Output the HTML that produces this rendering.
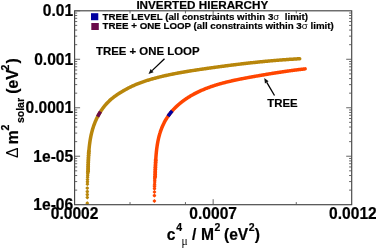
<!DOCTYPE html>
<html><head><meta charset="utf-8"><title>Inverted Hierarchy</title>
<style>html,body{margin:0;padding:0;background:#fff;overflow:hidden}body{width:376px;height:248px;position:relative;font-family:"Liberation Sans",sans-serif}</style></head>
<body>
<svg width="376" height="248" viewBox="0 0 376 248" style="position:absolute;left:0;top:0;will-change:transform">
<rect width="376" height="248" fill="#fff"/>
<path d="M88.06 171.24 L88.08 170.50 L88.09 169.76 L88.11 169.02 L88.13 168.28 L88.15 167.54 L88.16 166.80 L88.18 166.06 L88.20 165.31 L88.22 164.57 L88.24 163.83 L88.27 163.09 L88.29 162.35 L88.32 161.60 L88.34 160.86 L88.37 160.12 L88.40 159.38 L88.43 158.64 L88.46 157.89 L88.50 157.15 L88.54 156.41 L88.58 155.67 L88.62 154.93 L88.66 154.19 L88.71 153.45 L88.76 152.71 L88.81 151.97 L88.87 151.24 L88.93 150.50 L88.99 149.76 L89.05 149.03 L89.12 148.29 L89.20 147.56 L89.27 146.82 L89.35 146.09 L89.44 145.36 L89.52 144.62 L89.62 143.89 L89.71 143.17 L89.81 142.44 L89.92 141.71 L90.03 140.98 L90.14 140.26 L90.26 139.53 L90.39 138.81 L90.52 138.09 L90.65 137.37 L90.79 136.65 L90.94 135.93 L91.09 135.22 L91.25 134.50 L91.41 133.79 L91.58 133.08 L91.76 132.36 L91.94 131.66 L92.13 130.95 L92.32 130.24 L92.52 129.54 L92.73 128.84 L92.94 128.14 L93.17 127.44 L93.39 126.74 L93.63 126.05 L93.87 125.36 L94.12 124.67 L94.37 123.98 L94.64 123.30 L94.90 122.61 L95.18 121.94 L95.46 121.26 L95.75 120.59 L96.05 119.92 L96.35 119.25 L96.66 118.59 L96.98 117.93 L97.30 117.27 L97.64 116.62 L97.97 115.98 L98.32 115.33 L98.67 114.69 L99.03 114.06 L99.40 113.43 L99.77 112.80 L100.15 112.18 L100.54 111.56 L100.93 110.95 L101.34 110.34 L101.74 109.74 L102.16 109.14 L102.58 108.55 L103.01 107.97 L103.45 107.39 L103.90 106.81 L104.35 106.24 L104.81 105.68 L105.28 105.12 L105.75 104.57 L106.23 104.03 L106.72 103.49 L107.22 102.96 L107.72 102.43 L108.23 101.91 L108.75 101.40 L109.27 100.89 L109.81 100.40 L110.35 99.91 L110.89 99.42 L111.45 98.95 L112.01 98.48 L112.58 98.02 L113.16 97.56 L113.74 97.12 L114.33 96.67 L114.93 96.24 L115.53 95.81 L116.13 95.39 L116.74 94.97 L117.36 94.56 L117.97 94.15 L118.59 93.74 L119.22 93.34 L119.84 92.95 L120.47 92.55 L121.10 92.16 L121.74 91.78 L122.37 91.39 L123.01 91.01 L123.65 90.64 L124.30 90.27 L124.94 89.90 L125.59 89.54 L126.23 89.18 L126.89 88.83 L127.54 88.48 L128.19 88.14 L128.85 87.80 L129.51 87.47 L130.17 87.14 L130.83 86.82 L131.49 86.50 L132.16 86.19 L132.83 85.88 L133.49 85.58 L134.17 85.28 L134.84 84.99 L135.51 84.70 L136.19 84.42 L136.86 84.14 L137.54 83.87 L138.22 83.60 L138.90 83.33 L139.58 83.07 L140.27 82.81 L140.95 82.56 L141.64 82.31 L142.33 82.07 L143.02 81.82 L143.71 81.59 L144.40 81.35 L145.09 81.12 L145.78 80.89 L146.48 80.67 L147.18 80.45 L147.87 80.23 L148.57 80.02 L149.27 79.80 L149.97 79.59 L150.67 79.39 L151.37 79.18 L152.07 78.98 L152.78 78.78 L153.48 78.59 L154.19 78.40 L154.89 78.20 L155.60 78.01 L156.31 77.83 L157.01 77.64 L157.72 77.46 L158.43 77.28 L159.14 77.10 L159.85 76.92 L160.56 76.75 L161.27 76.58 L161.99 76.41 L162.70 76.24 L163.41 76.07 L164.13 75.90 L164.84 75.74 L165.56 75.58 L166.27 75.42 L166.99 75.26 L167.71 75.10 L168.42 74.95 L169.14 74.80 L169.86 74.64 L170.58 74.49 L171.30 74.35 L172.02 74.20 L172.74 74.05 L173.46 73.91 L174.18 73.77 L174.90 73.63 L175.62 73.49 L176.35 73.35 L177.07 73.21 L177.79 73.08 L178.51 72.94 L179.24 72.81 L179.96 72.68 L180.69 72.55 L181.41 72.42 L182.14 72.29 L182.86 72.16 L183.59 72.04 L184.31 71.91 L185.04 71.79 L185.77 71.67 L186.49 71.55 L187.22 71.43 L187.95 71.31 L188.67 71.19 L189.40 71.07 L190.13 70.95 L190.86 70.84 L191.59 70.72 L192.31 70.61 L193.04 70.49 L193.77 70.38 L194.50 70.27 L195.23 70.16 L195.96 70.05 L196.69 69.94 L197.42 69.83 L198.14 69.72 L198.87 69.61 L199.60 69.50 L200.33 69.39 L201.06 69.29 L201.79 69.18 L202.52 69.07 L203.25 68.97 L203.98 68.86 L204.71 68.76 L205.44 68.65 L206.17 68.55 L206.90 68.44 L207.63 68.34 L208.35 68.24 L209.08 68.13 L209.81 68.03 L210.54 67.93 L211.27 67.83 L212.00 67.72 L212.73 67.62 L213.46 67.52 L214.19 67.42 L214.92 67.32 L215.64 67.22 L216.37 67.12 L217.10 67.02 L217.83 66.92 L218.56 66.82 L219.29 66.72 L220.02 66.62 L220.75 66.53 L221.48 66.43 L222.20 66.33 L222.93 66.23 L223.66 66.14 L224.39 66.04 L225.12 65.95 L225.85 65.85 L226.58 65.76 L227.31 65.66 L228.03 65.57 L228.76 65.47 L229.49 65.38 L230.22 65.29 L230.95 65.19 L231.68 65.10 L232.41 65.01 L233.14 64.92 L233.86 64.83 L234.59 64.74 L235.32 64.65 L236.05 64.56 L236.78 64.47 L237.51 64.38 L238.24 64.29 L238.97 64.20 L239.70 64.12 L240.43 64.03 L241.15 63.94 L241.88 63.86 L242.61 63.77 L243.34 63.69 L244.07 63.60 L244.80 63.52 L245.53 63.43 L246.26 63.35 L246.99 63.27 L247.72 63.18 L248.45 63.10 L249.18 63.02 L249.91 62.94 L250.64 62.86 L251.37 62.78 L252.10 62.70 L252.83 62.62 L253.56 62.54 L254.29 62.46 L255.02 62.39 L255.75 62.31 L256.48 62.23 L257.21 62.16 L257.94 62.08 L258.67 62.01 L259.40 61.93 L260.13 61.86 L260.86 61.79 L261.59 61.71 L262.32 61.64 L263.05 61.57 L263.78 61.50 L264.51 61.43 L265.24 61.36 L265.97 61.29 L266.70 61.22 L267.44 61.15 L268.17 61.08 L268.90 61.02 L269.63 60.95 L270.36 60.88 L271.09 60.82 L271.83 60.75 L272.56 60.69 L273.29 60.62 L274.02 60.56 L274.75 60.50 L275.49 60.44 L276.22 60.37 L276.95 60.31 L277.68 60.25 L278.42 60.19 L279.15 60.13 L279.88 60.08 L280.61 60.02 L281.35 59.96 L282.08 59.90 L282.81 59.85 L283.55 59.79 L284.28 59.74 L285.01 59.68 L285.75 59.63 L286.48 59.58 L287.22 59.53 L287.95 59.47 L288.69 59.42 L289.42 59.37 L290.15 59.32 L290.89 59.28 L291.62 59.23 L292.36 59.18 L293.09 59.13 L293.83 59.09 L294.56 59.04 L295.30 59.00 L296.04 58.95 L296.77 58.91 L297.51 58.87 L298.24 58.82 L298.98 58.78 L299.72 58.74" fill="none" stroke="#b8860b" stroke-width="3.50" stroke-linecap="round" stroke-linejoin="round"/>
<path d="M86.01 171.24L86.87 170.05L88.06 169.19L89.25 170.05L90.11 171.24L89.25 172.43L88.06 173.29L86.87 172.43Z" fill="#b8860b"/>
<path d="M86.06 169.02L86.92 167.83L88.11 166.97L89.30 167.83L90.16 169.02L89.30 170.21L88.11 171.07L86.92 170.21Z" fill="#b8860b"/>
<path d="M86.11 166.80L86.98 165.61L88.16 164.75L89.35 165.61L90.21 166.80L89.35 167.99L88.16 168.85L86.98 167.99Z" fill="#b8860b"/>
<path d="M86.17 164.57L87.03 163.38L88.22 162.52L89.41 163.38L90.27 164.57L89.41 165.76L88.22 166.62L87.03 165.76Z" fill="#b8860b"/>
<path d="M86.24 162.35L87.10 161.16L88.29 160.30L89.48 161.16L90.34 162.35L89.48 163.53L88.29 164.40L87.10 163.53Z" fill="#b8860b"/>
<path d="M86.32 160.12L87.18 158.93L88.37 158.07L89.56 158.93L90.42 160.12L89.56 161.31L88.37 162.17L87.18 161.31Z" fill="#b8860b"/>
<path d="M86.41 157.89L87.28 156.71L88.46 155.84L89.65 156.71L90.51 157.89L89.65 159.08L88.46 159.94L87.28 159.08Z" fill="#b8860b"/>
<path d="M86.53 155.67L87.39 154.48L88.58 153.62L89.77 154.48L90.63 155.67L89.77 156.86L88.58 157.72L87.39 156.86Z" fill="#b8860b"/>
<path d="M86.66 153.45L87.52 152.26L88.71 151.40L89.90 152.26L90.76 153.45L89.90 154.64L88.71 155.50L87.52 154.64Z" fill="#b8860b"/>
<path d="M86.82 151.24L87.68 150.05L88.87 149.19L90.06 150.05L90.92 151.24L90.06 152.42L88.87 153.29L87.68 152.42Z" fill="#b8860b"/>
<path d="M85.40 203.20L86.20 202.10L87.30 201.30L88.40 202.10L89.20 203.20L88.40 204.30L87.30 205.10L86.20 204.30Z" fill="#b8860b"/>
<path d="M85.40 197.50L86.20 196.40L87.30 195.60L88.40 196.40L89.20 197.50L88.40 198.60L87.30 199.40L86.20 198.60Z" fill="#b8860b"/>
<path d="M85.40 194.70L86.20 193.60L87.30 192.80L88.40 193.60L89.20 194.70L88.40 195.80L87.30 196.60L86.20 195.80Z" fill="#b8860b"/>
<path d="M85.40 191.70L86.20 190.60L87.30 189.80L88.40 190.60L89.20 191.70L88.40 192.80L87.30 193.60L86.20 192.80Z" fill="#b8860b"/>
<path d="M85.40 188.10L86.20 187.00L87.30 186.20L88.40 187.00L89.20 188.10L88.40 189.20L87.30 190.00L86.20 189.20Z" fill="#b8860b"/>
<path d="M85.50 184.20L86.30 183.10L87.40 182.30L88.50 183.10L89.30 184.20L88.50 185.30L87.40 186.10L86.30 185.30Z" fill="#b8860b"/>
<path d="M85.55 181.80L86.35 180.70L87.45 179.90L88.55 180.70L89.35 181.80L88.55 182.90L87.45 183.70L86.35 182.90Z" fill="#b8860b"/>
<path d="M85.60 179.60L86.40 178.50L87.50 177.70L88.60 178.50L89.40 179.60L88.60 180.70L87.50 181.50L86.40 180.70Z" fill="#b8860b"/>
<path d="M85.70 177.20L86.50 176.10L87.60 175.30L88.70 176.10L89.50 177.20L88.70 178.30L87.60 179.10L86.50 178.30Z" fill="#b8860b"/>
<path d="M85.80 175.20L86.60 174.10L87.70 173.30L88.80 174.10L89.60 175.20L88.80 176.30L87.70 177.10L86.60 176.30Z" fill="#b8860b"/>
<path d="M85.90 173.40L86.70 172.30L87.80 171.50L88.90 172.30L89.70 173.40L88.90 174.50L87.80 175.30L86.70 174.50Z" fill="#b8860b"/>
<path d="M85.95 171.80L86.75 170.70L87.85 169.90L88.95 170.70L89.75 171.80L88.95 172.90L87.85 173.70L86.75 172.90Z" fill="#b8860b"/>
<path d="M155.11 176.59 L155.12 176.02 L155.14 175.45 L155.16 174.88 L155.17 174.31 L155.19 173.74 L155.21 173.17 L155.23 172.60 L155.24 172.02 L155.26 171.45 L155.28 170.88 L155.30 170.30 L155.32 169.73 L155.33 169.15 L155.35 168.57 L155.37 167.99 L155.39 167.42 L155.42 166.84 L155.44 166.26 L155.46 165.68 L155.48 165.10 L155.51 164.52 L155.53 163.94 L155.56 163.36 L155.59 162.78 L155.62 162.20 L155.65 161.62 L155.68 161.04 L155.71 160.46 L155.75 159.88 L155.78 159.30 L155.82 158.72 L155.86 158.14 L155.90 157.56 L155.94 156.98 L155.98 156.40 L156.02 155.82 L156.07 155.24 L156.12 154.66 L156.17 154.09 L156.22 153.51 L156.28 152.93 L156.33 152.35 L156.39 151.78 L156.45 151.20 L156.52 150.63 L156.58 150.05 L156.65 149.48 L156.72 148.90 L156.79 148.33 L156.87 147.76 L156.95 147.19 L157.03 146.62 L157.11 146.05 L157.20 145.48 L157.28 144.91 L157.38 144.35 L157.47 143.78 L157.57 143.22 L157.67 142.66 L157.77 142.09 L157.88 141.53 L157.99 140.97 L158.10 140.41 L158.22 139.86 L158.34 139.30 L158.46 138.75 L158.59 138.19 L158.72 137.64 L158.85 137.09 L158.99 136.54 L159.13 136.00 L159.28 135.45 L159.43 134.91 L159.58 134.36 L159.74 133.82 L159.90 133.28 L160.07 132.75 L160.23 132.21 L160.41 131.68 L160.59 131.14 L160.77 130.61 L160.95 130.09 L161.15 129.56 L161.34 129.04 L161.54 128.51 L161.74 127.99 L161.95 127.48 L162.17 126.96 L162.39 126.45 L162.61 125.93 L162.84 125.43 L163.07 124.92 L163.31 124.41 L163.55 123.91 L163.80 123.41 L164.05 122.91 L164.30 122.42 L164.56 121.93 L164.83 121.44 L165.10 120.95 L165.37 120.46 L165.65 119.98 L165.94 119.50 L166.22 119.03 L166.52 118.55 L166.82 118.08 L167.12 117.61 L167.42 117.15 L167.73 116.68 L168.05 116.22 L168.37 115.77 L168.69 115.31 L169.02 114.86 L169.36 114.41 L169.69 113.97 L170.04 113.53 L170.38 113.09 L170.73 112.65 L171.09 112.22 L171.45 111.79 L171.81 111.37 L172.18 110.94 L172.55 110.52 L172.92 110.11 L173.30 109.69 L173.68 109.28 L174.07 108.88 L174.46 108.47 L174.85 108.07 L175.25 107.68 L175.65 107.28 L176.06 106.89 L176.46 106.50 L176.87 106.12 L177.29 105.74 L177.70 105.36 L178.12 104.99 L178.55 104.61 L178.97 104.25 L179.40 103.88 L179.83 103.52 L180.26 103.16 L180.70 102.81 L181.14 102.45 L181.58 102.11 L182.02 101.76 L182.47 101.42 L182.92 101.08 L183.37 100.74 L183.82 100.41 L184.27 100.08 L184.73 99.76 L185.19 99.44 L185.65 99.12 L186.11 98.80 L186.58 98.49 L187.05 98.18 L187.52 97.87 L187.99 97.57 L188.46 97.27 L188.93 96.97 L189.41 96.67 L189.89 96.38 L190.37 96.09 L190.85 95.81 L191.34 95.52 L191.82 95.24 L192.31 94.97 L192.80 94.69 L193.29 94.42 L193.78 94.15 L194.28 93.89 L194.78 93.62 L195.27 93.36 L195.77 93.11 L196.27 92.85 L196.78 92.60 L197.28 92.35 L197.79 92.10 L198.30 91.86 L198.81 91.61 L199.32 91.38 L199.83 91.14 L200.34 90.90 L200.86 90.67 L201.37 90.44 L201.89 90.22 L202.41 89.99 L202.93 89.77 L203.45 89.55 L203.98 89.33 L204.50 89.12 L205.03 88.90 L205.55 88.69 L206.08 88.48 L206.61 88.28 L207.14 88.07 L207.67 87.87 L208.21 87.67 L208.74 87.48 L209.28 87.28 L209.81 87.09 L210.35 86.90 L210.89 86.71 L211.43 86.52 L211.97 86.34 L212.51 86.15 L213.05 85.97 L213.60 85.79 L214.14 85.62 L214.69 85.44 L215.23 85.27 L215.78 85.10 L216.33 84.93 L216.88 84.76 L217.43 84.59 L217.98 84.43 L218.53 84.26 L219.08 84.10 L219.63 83.94 L220.18 83.79 L220.74 83.63 L221.29 83.48 L221.85 83.32 L222.40 83.17 L222.96 83.02 L223.52 82.88 L224.08 82.73 L224.63 82.58 L225.19 82.44 L225.75 82.30 L226.31 82.16 L226.87 82.02 L227.43 81.88 L227.99 81.74 L228.56 81.61 L229.12 81.48 L229.68 81.34 L230.24 81.21 L230.80 81.08 L231.37 80.95 L231.93 80.82 L232.49 80.70 L233.06 80.57 L233.62 80.45 L234.19 80.33 L234.75 80.20 L235.32 80.08 L235.88 79.96 L236.45 79.84 L237.01 79.73 L237.58 79.61 L238.14 79.49 L238.71 79.38 L239.27 79.26 L239.84 79.15 L240.40 79.04 L240.97 78.93 L241.53 78.82 L242.10 78.71 L242.66 78.60 L243.23 78.49 L243.79 78.38 L244.36 78.27 L244.92 78.17 L245.49 78.06 L246.05 77.96 L246.61 77.85 L247.18 77.75 L247.74 77.65 L248.30 77.54 L248.86 77.44 L249.43 77.34 L249.99 77.24 L250.55 77.14 L251.11 77.04 L251.67 76.94 L252.23 76.84 L252.79 76.74 L253.35 76.64 L253.91 76.54 L254.47 76.44 L255.02 76.34 L255.58 76.25 L256.14 76.15 L256.69 76.05 L257.25 75.96 L257.80 75.86 L258.36 75.76 L258.91 75.67 L259.46 75.57 L260.02 75.47 L260.57 75.38 L261.12 75.28 L261.67 75.19 L262.22 75.09 L262.77 75.00 L263.32 74.91 L263.87 74.81 L264.42 74.72 L264.97 74.63 L265.52 74.53 L266.07 74.44 L266.62 74.35 L267.17 74.26 L267.72 74.16 L268.27 74.07 L268.82 73.98 L269.37 73.89 L269.91 73.80 L270.46 73.71 L271.01 73.62 L271.56 73.53 L272.11 73.44 L272.66 73.35 L273.20 73.27 L273.75 73.18 L274.30 73.09 L274.85 73.00 L275.40 72.92 L275.95 72.83 L276.50 72.74 L277.04 72.66 L277.59 72.57 L278.14 72.49 L278.69 72.40 L279.24 72.32 L279.79 72.23 L280.34 72.15 L280.90 72.06 L281.45 71.98 L282.00 71.90 L282.55 71.82 L283.10 71.73 L283.66 71.65 L284.21 71.57 L284.76 71.49 L285.32 71.41 L285.87 71.33 L286.43 71.25 L286.98 71.17 L287.54 71.09 L288.10 71.02 L288.65 70.94 L289.21 70.86 L289.77 70.78 L290.33 70.71 L290.89 70.63 L291.45 70.55 L292.01 70.48 L292.58 70.40 L293.14 70.33 L293.70 70.26 L294.27 70.18 L294.83 70.11 L295.40 70.04 L295.97 69.96 L296.53 69.89 L297.10 69.82 L297.67 69.75 L298.24 69.68 L298.82 69.61 L299.39 69.54 L299.96 69.47 L300.54 69.40 L301.11 69.34 L301.69 69.27 L302.27 69.20 L302.85 69.14 L303.43 69.07 L304.01 69.01 L304.59 68.94 L305.17 68.88" fill="none" stroke="#ff4500" stroke-width="3.50" stroke-linecap="round" stroke-linejoin="round"/>
<path d="M153.06 176.59L153.92 175.40L155.11 174.54L156.29 175.40L157.16 176.59L156.29 177.78L155.11 178.64L153.92 177.78Z" fill="#ff4500"/>
<path d="M153.12 174.31L153.99 173.12L155.17 172.26L156.36 173.12L157.22 174.31L156.36 175.50L155.17 176.36L153.99 175.50Z" fill="#ff4500"/>
<path d="M153.19 172.02L154.05 170.84L155.24 169.97L156.43 170.84L157.29 172.02L156.43 173.21L155.24 174.07L154.05 173.21Z" fill="#ff4500"/>
<path d="M153.27 169.73L154.13 168.54L155.32 167.68L156.50 168.54L157.37 169.73L156.50 170.91L155.32 171.78L154.13 170.91Z" fill="#ff4500"/>
<path d="M153.34 167.42L154.21 166.23L155.39 165.37L156.58 166.23L157.44 167.42L156.58 168.61L155.39 169.47L154.21 168.61Z" fill="#ff4500"/>
<path d="M153.43 165.10L154.30 163.91L155.48 163.05L156.67 163.91L157.53 165.10L156.67 166.29L155.48 167.15L154.30 166.29Z" fill="#ff4500"/>
<path d="M153.54 162.78L154.40 161.59L155.59 160.73L156.78 161.59L157.64 162.78L156.78 163.97L155.59 164.83L154.40 163.97Z" fill="#ff4500"/>
<path d="M153.66 160.46L154.52 159.27L155.71 158.41L156.90 159.27L157.76 160.46L156.90 161.65L155.71 162.51L154.52 161.65Z" fill="#ff4500"/>
<path d="M152.50 201.00L153.30 199.90L154.40 199.10L155.50 199.90L156.30 201.00L155.50 202.10L154.40 202.90L153.30 202.10Z" fill="#ff4500"/>
<path d="M152.50 195.70L153.30 194.60L154.40 193.80L155.50 194.60L156.30 195.70L155.50 196.80L154.40 197.60L153.30 196.80Z" fill="#ff4500"/>
<path d="M152.55 192.00L153.35 190.90L154.45 190.10L155.55 190.90L156.35 192.00L155.55 193.10L154.45 193.90L153.35 193.10Z" fill="#ff4500"/>
<path d="M152.60 188.70L153.40 187.60L154.50 186.80L155.60 187.60L156.40 188.70L155.60 189.80L154.50 190.60L153.40 189.80Z" fill="#ff4500"/>
<path d="M152.65 186.30L153.45 185.20L154.55 184.40L155.65 185.20L156.45 186.30L155.65 187.40L154.55 188.20L153.45 187.40Z" fill="#ff4500"/>
<path d="M152.70 184.20L153.50 183.10L154.60 182.30L155.70 183.10L156.50 184.20L155.70 185.30L154.60 186.10L153.50 185.30Z" fill="#ff4500"/>
<path d="M152.80 182.00L153.60 180.90L154.70 180.10L155.80 180.90L156.60 182.00L155.80 183.10L154.70 183.90L153.60 183.10Z" fill="#ff4500"/>
<path d="M152.85 180.20L153.65 179.10L154.75 178.30L155.85 179.10L156.65 180.20L155.85 181.30L154.75 182.10L153.65 181.30Z" fill="#ff4500"/>
<path d="M152.90 178.60L153.70 177.50L154.80 176.70L155.90 177.50L156.70 178.60L155.90 179.70L154.80 180.50L153.70 179.70Z" fill="#ff4500"/>
<path d="M153.00 177.20L153.80 176.10L154.90 175.30L156.00 176.10L156.80 177.20L156.00 178.30L154.90 179.10L153.80 178.30Z" fill="#ff4500"/>
<path d="M97.64 116.62 L97.97 115.98 L98.32 115.33 L98.67 114.69 L99.03 114.06 L99.40 113.43 L99.77 112.80 L100.15 112.18 L100.54 111.56" stroke="#6a0a4a" stroke-width="3.50" fill="none"/>
<path d="M168.05 116.22 L168.37 115.77 L168.69 115.31 L169.02 114.86 L169.36 114.41 L169.69 113.97 L170.04 113.53 L170.38 113.09 L170.73 112.65 L171.09 112.22 L171.45 111.79 L171.81 111.37 L172.18 110.94" stroke="#0000a0" stroke-width="3.50" fill="none"/>
<rect x="74.60" y="10.80" width="277.10" height="193.90" fill="none" stroke="#444" stroke-width="1.15"/>
<path d="M74.60 190.11h2.6M351.70 190.11h-2.6M74.60 181.57h2.6M351.70 181.57h-2.6M74.60 175.52h2.6M351.70 175.52h-2.6M74.60 170.82h2.6M351.70 170.82h-2.6M74.60 166.98h2.6M351.70 166.98h-2.6M74.60 163.73h2.6M351.70 163.73h-2.6M74.60 160.92h2.6M351.70 160.92h-2.6M74.60 158.44h2.6M351.70 158.44h-2.6M74.60 156.22h5.5M351.70 156.22h-5.5M74.60 141.63h2.6M351.70 141.63h-2.6M74.60 133.10h2.6M351.70 133.10h-2.6M74.60 127.04h2.6M351.70 127.04h-2.6M74.60 122.34h2.6M351.70 122.34h-2.6M74.60 118.50h2.6M351.70 118.50h-2.6M74.60 115.26h2.6M351.70 115.26h-2.6M74.60 112.45h2.6M351.70 112.45h-2.6M74.60 109.97h2.6M351.70 109.97h-2.6M74.60 107.75h5.5M351.70 107.75h-5.5M74.60 93.16h2.6M351.70 93.16h-2.6M74.60 84.62h2.6M351.70 84.62h-2.6M74.60 78.57h2.6M351.70 78.57h-2.6M74.60 73.87h2.6M351.70 73.87h-2.6M74.60 70.03h2.6M351.70 70.03h-2.6M74.60 66.78h2.6M351.70 66.78h-2.6M74.60 63.97h2.6M351.70 63.97h-2.6M74.60 61.49h2.6M351.70 61.49h-2.6M74.60 59.28h5.5M351.70 59.28h-5.5M74.60 44.68h2.6M351.70 44.68h-2.6M74.60 36.15h2.6M351.70 36.15h-2.6M74.60 30.09h2.6M351.70 30.09h-2.6M74.60 25.39h2.6M351.70 25.39h-2.6M74.60 21.55h2.6M351.70 21.55h-2.6M74.60 18.31h2.6M351.70 18.31h-2.6M74.60 15.50h2.6M351.70 15.50h-2.6M74.60 13.02h2.6M351.70 13.02h-2.6M74.60 10.80h5.5M130.02 204.70v-2.6M130.02 10.80v2.6M185.44 204.70v-2.6M185.44 10.80v2.6M296.28 204.70v-2.6M296.28 10.80v2.6M213.15 204.70v-5.5M213.15 10.80v5.5" stroke="#555" stroke-width="0.9" fill="none"/>
<rect x="91.0" y="13.2" width="7.3" height="7" fill="#0000a0"/>
<rect x="91.3" y="23.0" width="7.5" height="7" fill="#6a0a4a"/>
<path d="M164.50 58.70L152.10 70.63" stroke="#000" stroke-width="1.3" fill="none"/><path d="M148.50 74.10L150.65 69.12L153.56 72.15Z" fill="#111"/>
<path d="M274.50 95.50L266.78 82.31" stroke="#000" stroke-width="1.3" fill="none"/><path d="M264.25 78.00L268.59 81.25L264.96 83.38Z" fill="#111"/>
<text x="73.20" y="210.20" font-size="15.60" text-anchor="end" font-family="Liberation Sans, sans-serif" font-weight="bold" fill="#000" stroke="#000" stroke-width="0.2" stroke-linejoin="round" >1e-06</text>
<text x="73.20" y="161.72" font-size="15.60" text-anchor="end" font-family="Liberation Sans, sans-serif" font-weight="bold" fill="#000" stroke="#000" stroke-width="0.2" stroke-linejoin="round" >1e-05</text>
<text x="73.20" y="113.25" font-size="15.60" text-anchor="end" font-family="Liberation Sans, sans-serif" font-weight="bold" fill="#000" stroke="#000" stroke-width="0.2" stroke-linejoin="round" >0.0001</text>
<text x="73.20" y="64.78" font-size="15.60" text-anchor="end" font-family="Liberation Sans, sans-serif" font-weight="bold" fill="#000" stroke="#000" stroke-width="0.2" stroke-linejoin="round" >0.001</text>
<text x="73.20" y="16.30" font-size="15.60" text-anchor="end" font-family="Liberation Sans, sans-serif" font-weight="bold" fill="#000" stroke="#000" stroke-width="0.2" stroke-linejoin="round" >0.01</text>
<text x="74.60" y="219.30" font-size="15.60" text-anchor="middle" font-family="Liberation Sans, sans-serif" font-weight="bold" fill="#000" stroke="#000" stroke-width="0.2" stroke-linejoin="round" >0.0002</text>
<text x="213.15" y="219.30" font-size="15.60" text-anchor="middle" font-family="Liberation Sans, sans-serif" font-weight="bold" fill="#000" stroke="#000" stroke-width="0.2" stroke-linejoin="round" >0.0007</text>
<text x="352.90" y="219.30" font-size="15.60" text-anchor="middle" font-family="Liberation Sans, sans-serif" font-weight="bold" fill="#000" stroke="#000" stroke-width="0.2" stroke-linejoin="round" >0.0012</text>
<text x="202.30" y="9.20" font-size="11.70" text-anchor="middle" font-family="Liberation Sans, sans-serif" font-weight="bold" fill="#000" stroke="#000" stroke-width="0.2" stroke-linejoin="round" >INVERTED HIERARCHY</text>
<text x="102.60" y="20.00" font-size="9.74" text-anchor="start" font-family="Liberation Sans, sans-serif" font-weight="bold" fill="#000" stroke="#000" stroke-width="0.2" stroke-linejoin="round" xml:space="preserve">TREE LEVEL (all constraints within 3<tspan font-weight="normal" stroke="none">σ</tspan>  limit)</text>
<text x="102.60" y="29.10" font-size="9.74" text-anchor="start" font-family="Liberation Sans, sans-serif" font-weight="bold" fill="#000" stroke="#000" stroke-width="0.2" stroke-linejoin="round" xml:space="preserve">TREE + ONE LOOP (all constraints within 3<tspan font-weight="normal" stroke="none">σ</tspan> limit)</text>
<text x="96.00" y="54.50" font-size="11.40" text-anchor="start" font-family="Liberation Sans, sans-serif" font-weight="bold" fill="#000" stroke="#000" stroke-width="0.2" stroke-linejoin="round" >TREE + ONE LOOP</text>
<text x="267.30" y="107.20" font-size="11.40" text-anchor="start" font-family="Liberation Sans, sans-serif" font-weight="bold" fill="#000" stroke="#000" stroke-width="0.2" stroke-linejoin="round" >TREE</text>
<text x="166.80" y="239.60" font-size="15.60" text-anchor="start" font-family="Liberation Sans, sans-serif" font-weight="bold" fill="#000" stroke="#000" stroke-width="0.2" stroke-linejoin="round" >c</text>
<text x="176.30" y="230.60" font-size="10.50" text-anchor="start" font-family="Liberation Sans, sans-serif" font-weight="bold" fill="#000" stroke="#000" stroke-width="0.2" stroke-linejoin="round" >4</text>
<text x="181.6" y="245.0" font-size="11.5" font-family="Liberation Serif, serif" fill="#000">μ</text>
<text x="192.00" y="239.60" font-size="15.60" text-anchor="start" font-family="Liberation Sans, sans-serif" font-weight="bold" fill="#000" stroke="#000" stroke-width="0.2" stroke-linejoin="round" >/</text>
<text x="201.00" y="239.60" font-size="15.60" text-anchor="start" font-family="Liberation Sans, sans-serif" font-weight="bold" fill="#000" stroke="#000" stroke-width="0.2" stroke-linejoin="round" >M</text>
<text x="214.60" y="230.60" font-size="10.50" text-anchor="start" font-family="Liberation Sans, sans-serif" font-weight="bold" fill="#000" stroke="#000" stroke-width="0.2" stroke-linejoin="round" >2</text>
<text x="224.00" y="239.60" font-size="15.60" text-anchor="start" font-family="Liberation Sans, sans-serif" font-weight="bold" fill="#000" stroke="#000" stroke-width="0.2" stroke-linejoin="round" >(eV</text>
<text x="248.80" y="230.60" font-size="10.50" text-anchor="start" font-family="Liberation Sans, sans-serif" font-weight="bold" fill="#000" stroke="#000" stroke-width="0.2" stroke-linejoin="round" >2</text>
<text x="254.80" y="239.60" font-size="15.60" text-anchor="start" font-family="Liberation Sans, sans-serif" font-weight="bold" fill="#000" stroke="#000" stroke-width="0.2" stroke-linejoin="round" >)</text>
<g transform="translate(18.00,158.00) rotate(-90)">
<text x="0.00" y="0" font-size="15.6" font-family="Liberation Sans, sans-serif" fill="#000">Δ</text>
<text x="13.80" y="0.00" font-size="15.60" text-anchor="start" font-family="Liberation Sans, sans-serif" font-weight="bold" fill="#000" stroke="#000" stroke-width="0.2" stroke-linejoin="round" >m</text>
<text x="27.60" y="-9.40" font-size="10.50" text-anchor="start" font-family="Liberation Sans, sans-serif" font-weight="bold" fill="#000" stroke="#000" stroke-width="0.2" stroke-linejoin="round" >2</text>
<text x="34.90" y="5.50" font-size="10.50" text-anchor="start" font-family="Liberation Sans, sans-serif" font-weight="bold" fill="#000" stroke="#000" stroke-width="0.2" stroke-linejoin="round" >solar</text>
<text x="64.30" y="0.00" font-size="15.60" text-anchor="start" font-family="Liberation Sans, sans-serif" font-weight="bold" fill="#000" stroke="#000" stroke-width="0.2" stroke-linejoin="round" >(eV</text>
<text x="87.60" y="-9.40" font-size="10.50" text-anchor="start" font-family="Liberation Sans, sans-serif" font-weight="bold" fill="#000" stroke="#000" stroke-width="0.2" stroke-linejoin="round" >2</text>
<text x="94.40" y="0.00" font-size="15.60" text-anchor="start" font-family="Liberation Sans, sans-serif" font-weight="bold" fill="#000" stroke="#000" stroke-width="0.2" stroke-linejoin="round" >)</text>
</g>
</svg>
</body></html>
